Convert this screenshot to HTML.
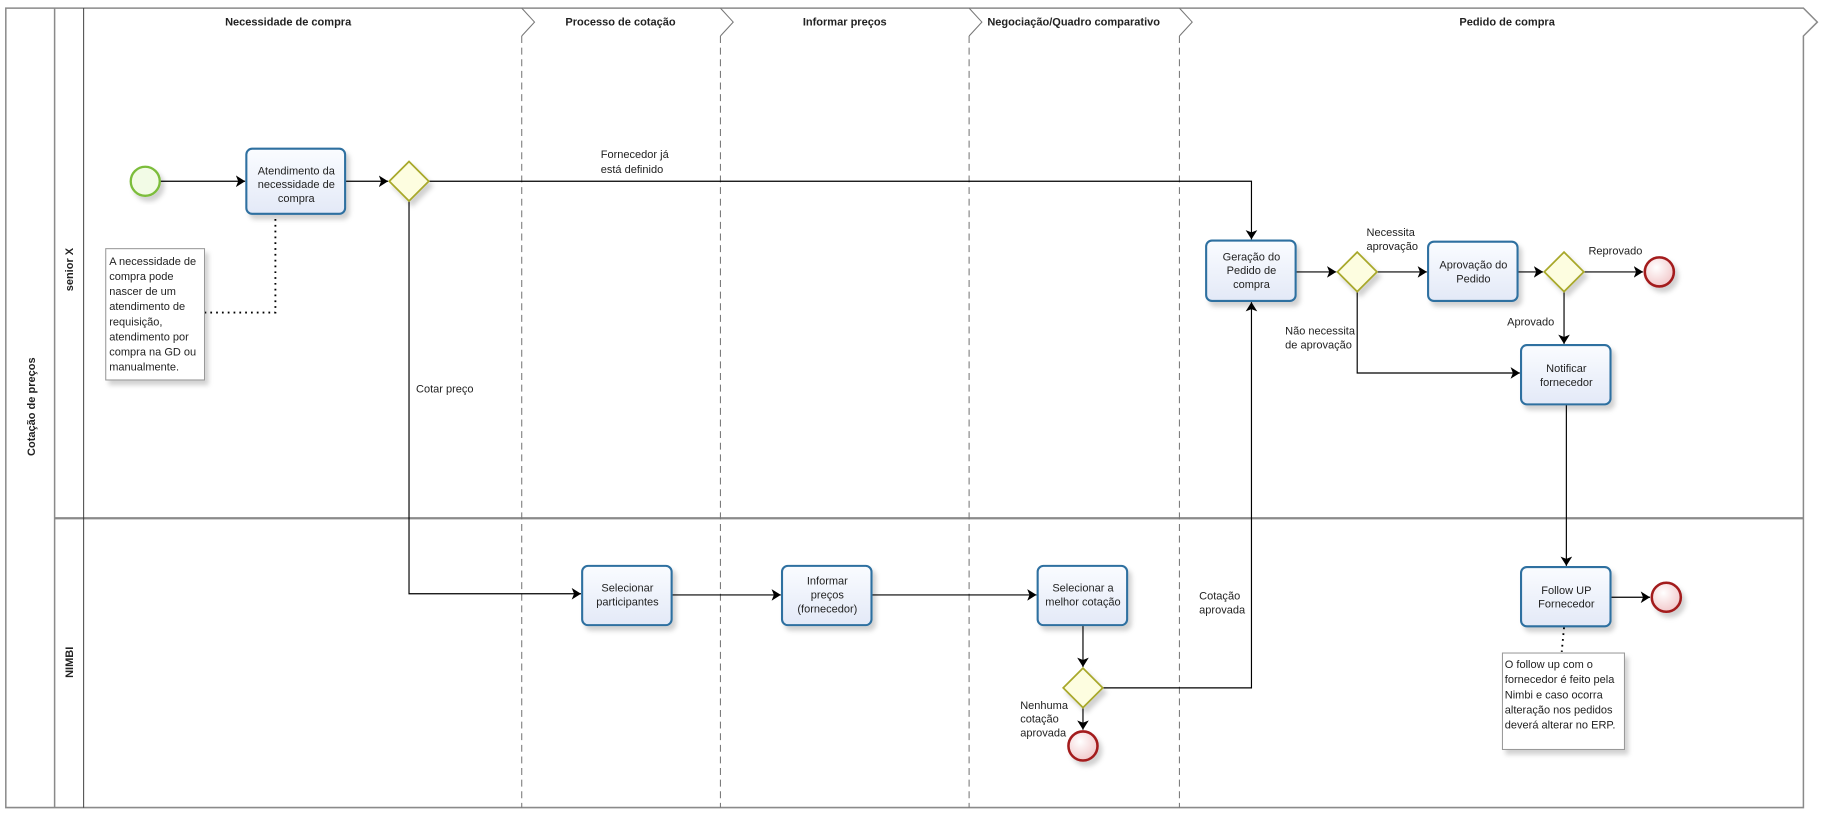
<!DOCTYPE html>
<html><head><meta charset="utf-8"><style>
html,body{margin:0;padding:0;background:#fff;}
svg{display:block;}
text{font-family:"Liberation Sans",sans-serif;font-size:9.5px;fill:#222;}
.h{font-weight:bold;font-size:9.5px;}
.t{text-anchor:middle;}
</style></head><body>
<svg width="1822" height="820" viewBox="0 0 1568 705.7" preserveAspectRatio="none" xmlns="http://www.w3.org/2000/svg">
<defs>
<linearGradient id="tg" x1="0" y1="0" x2="0" y2="1"><stop offset="0" stop-color="#fafcff"/><stop offset="1" stop-color="#e3e9f7"/></linearGradient>
<radialGradient id="eg" cx="0.4" cy="0.35" r="0.7"><stop offset="0" stop-color="#fff"/><stop offset="1" stop-color="#f1c6c8"/></radialGradient>
<marker id="a" markerWidth="10" markerHeight="10" refX="8" refY="5" orient="auto" markerUnits="userSpaceOnUse"><path d="M0,0 L8,5 L0,10 L2,5 Z" fill="#000"/></marker>
<filter id="sh" x="-20%" y="-20%" width="150%" height="150%"><feDropShadow dx="3" dy="4" stdDeviation="2" flood-color="#000" flood-opacity="0.18"/></filter>
</defs>
<!-- frame -->
<g stroke="#8a8a8a" stroke-width="1.3" fill="none">
<path d="M5,7 L1552,7 L1564,19 L1552,31 L1552,695 L5,695 Z"/>
<line x1="47" y1="7" x2="47" y2="695"/>
<line x1="47" y1="446" x2="1552" y2="446" stroke-width="2"/>
</g>
<line x1="72" y1="7" x2="72" y2="695" stroke="#333" stroke-width="0.8"/>
<g stroke="#777" stroke-width="0.9" fill="none">
<path d="M449,7 L460,19 L449,31" /><line x1="449" y1="31" x2="449" y2="695" stroke-dasharray="6,4"/>
<path d="M620,7 L631,19 L620,31" /><line x1="620" y1="31" x2="620" y2="695" stroke-dasharray="6,4"/>
<path d="M834,7 L845,19 L834,31" /><line x1="834" y1="31" x2="834" y2="695" stroke-dasharray="6,4"/>
<path d="M1015,7 L1026,19 L1015,31" /><line x1="1015" y1="31" x2="1015" y2="695" stroke-dasharray="6,4"/>
</g>
<text class="h t" x="248" y="22">Necessidade de compra</text>
<text class="h t" x="534" y="22">Processo de cotação</text>
<text class="h t" x="727" y="22">Informar preços</text>
<text class="h t" x="924" y="22">Negociação/Quadro comparativo</text>
<text class="h t" x="1297" y="22">Pedido de compra</text>
<text class="h t" transform="translate(30,350) rotate(-90)">Cotação de preços</text>
<text class="h t" transform="translate(63,232) rotate(-90)">senior X</text>
<text class="h t" transform="translate(63,570) rotate(-90)">NIMBI</text>

<!-- connectors -->
<g stroke="#000" stroke-width="1" fill="none">
<line x1="138" y1="156" x2="211" y2="156" marker-end="url(#a)"/>
<line x1="297" y1="156" x2="334" y2="156" marker-end="url(#a)"/>
<path d="M369,156 L1077,156 L1077,206" marker-end="url(#a)"/>
<path d="M352,173 L352,511 L500,511" marker-end="url(#a)"/>
<line x1="578" y1="512" x2="672" y2="512" marker-end="url(#a)"/>
<line x1="750" y1="512" x2="892" y2="512" marker-end="url(#a)"/>
<line x1="932" y1="538" x2="932" y2="574" marker-end="url(#a)"/>
<line x1="932" y1="609" x2="932" y2="628" marker-end="url(#a)"/>
<path d="M949,592 L1077,592 L1077,260" marker-end="url(#a)"/>
<line x1="1115" y1="234" x2="1150" y2="234" marker-end="url(#a)"/>
<line x1="1185" y1="234" x2="1228" y2="234" marker-end="url(#a)"/>
<line x1="1306" y1="234" x2="1328" y2="234" marker-end="url(#a)"/>
<line x1="1363" y1="234" x2="1414" y2="234" marker-end="url(#a)"/>
<line x1="1346" y1="251" x2="1346" y2="296" marker-end="url(#a)"/>
<path d="M1168,251 L1168,321 L1308,321" marker-end="url(#a)"/>
<line x1="1348" y1="348" x2="1348" y2="487" marker-end="url(#a)"/>
<line x1="1386" y1="514" x2="1420" y2="514" marker-end="url(#a)"/>
</g>
<g stroke="#000" stroke-width="1.6" fill="none" stroke-dasharray="1.5,3.5">
<path d="M176,269 L237,269 L237,185"/>
<line x1="1346" y1="540" x2="1344" y2="561"/>
</g>

<!-- tasks -->
<g stroke="#2e6fa0" stroke-width="1.8" fill="url(#tg)" filter="url(#sh)">
<rect x="212" y="128" width="85" height="56" rx="5"/>
<rect x="1038" y="207" width="77" height="52" rx="5"/>
<rect x="1229" y="208" width="77" height="51" rx="5"/>
<rect x="1309" y="297" width="77" height="51" rx="5"/>
<rect x="1309" y="488" width="77" height="51" rx="5"/>
<rect x="501" y="487" width="77" height="51" rx="5"/>
<rect x="673" y="487" width="77" height="51" rx="5"/>
<rect x="893" y="487" width="77" height="51" rx="5"/>
</g>
<!-- gateways -->
<g stroke="#a8a82a" stroke-width="1.5" fill="#fdfde0" filter="url(#sh)">
<path d="M352,139 L369,156 L352,173 L335,156 Z"/>
<path d="M1168,217 L1185,234 L1168,251 L1151,234 Z"/>
<path d="M1346,217 L1363,234 L1346,251 L1329,234 Z"/>
<path d="M932,575 L949,592 L932,609 L915,592 Z"/>
</g>
<!-- events -->
<circle cx="125" cy="156" r="12.5" fill="#f2fbe6" stroke="#7cbd3b" stroke-width="2" filter="url(#sh)"/>
<g fill="url(#eg)" stroke="#a31a1f" stroke-width="2.2" filter="url(#sh)">
<circle cx="1428" cy="234" r="12.5"/>
<circle cx="1434" cy="514" r="12.5"/>
<circle cx="932" cy="642" r="12.5"/>
</g>
<!-- annotations -->
<g fill="#fff" stroke="#999" stroke-width="0.9" filter="url(#sh)">
<rect x="91" y="214" width="85" height="113"/>
<rect x="1293" y="562" width="105" height="83"/>
</g>

<g class="t">
<text class="t" x="255" y="150">Atendimento  da</text>
<text class="t" x="255" y="162">necessidade de</text>
<text class="t" x="255" y="174">compra</text>
<text class="t" x="1077" y="224">Geração do</text>
<text class="t" x="1077" y="236">Pedido de</text>
<text class="t" x="1077" y="248">compra</text>
<text class="t" x="1268" y="231">Aprovação do</text>
<text class="t" x="1268" y="243">Pedido</text>
<text class="t" x="1348" y="320">Notificar</text>
<text class="t" x="1348" y="332">fornecedor</text>
<text class="t" x="1348" y="511">Follow UP</text>
<text class="t" x="1348" y="523">Fornecedor</text>
<text class="t" x="540" y="509">Selecionar</text>
<text class="t" x="540" y="521">participantes</text>
<text class="t" x="712" y="503">Informar</text>
<text class="t" x="712" y="515">preços</text>
<text class="t" x="712" y="527">(fornecedor)</text>
<text class="t" x="932" y="509">Selecionar a</text>
<text class="t" x="932" y="521">melhor cotação</text>
</g>
<text x="517" y="136">Fornecedor já</text>
<text x="517" y="149">está definido</text>
<text x="358" y="338">Cotar preço</text>
<text x="1176" y="203">Necessita</text>
<text x="1176" y="215">aprovação</text>
<text x="1367" y="219">Reprovado</text>
<text x="1297" y="280">Aprovado</text>
<text x="1106" y="288">Não necessita</text>
<text x="1106" y="300">de aprovação</text>
<text x="1032" y="516">Cotação</text>
<text x="1032" y="528">aprovada</text>
<text x="878" y="610">Nenhuma</text>
<text x="878" y="622">cotação</text>
<text x="878" y="634">aprovada</text>
<g>
<text x="94" y="228">A necessidade de</text>
<text x="94" y="241">compra pode</text>
<text x="94" y="254">nascer de um</text>
<text x="94" y="267">atendimento de</text>
<text x="94" y="280">requisição,</text>
<text x="94" y="293">atendimento por</text>
<text x="94" y="306">compra na GD ou</text>
<text x="94" y="319">manualmente.</text>
</g>
<g>
<text x="1295" y="575">O follow up com o</text>
<text x="1295" y="588">fornecedor é feito pela</text>
<text x="1295" y="601">Nimbi e caso ocorra</text>
<text x="1295" y="614">alteração nos pedidos</text>
<text x="1295" y="627">deverá alterar no ERP.</text>
</g>
</svg>
</body></html>
